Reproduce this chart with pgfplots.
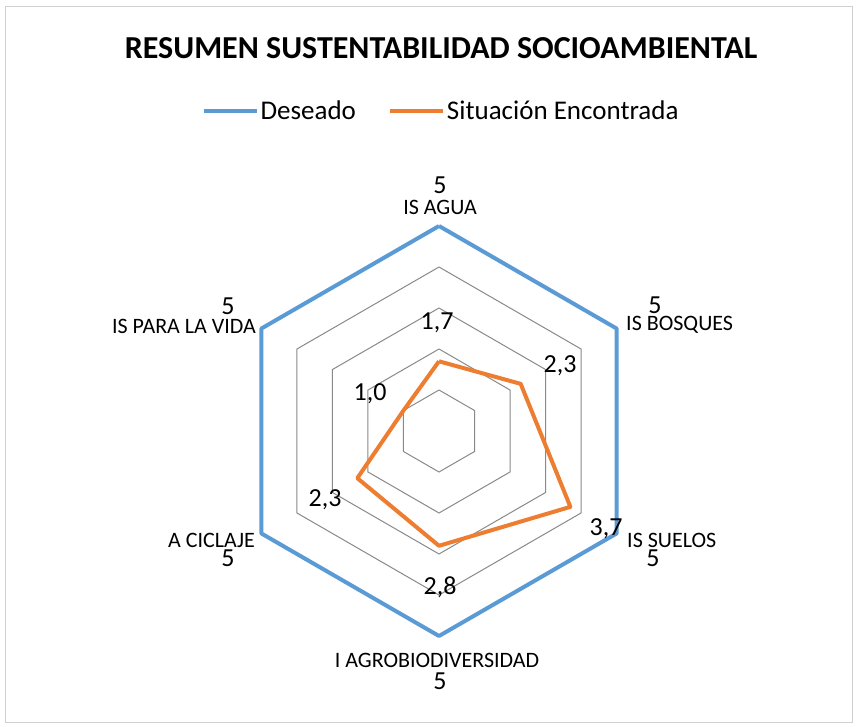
\documentclass[border=0pt]{standalone}
\usepackage{pgfplots}
\pgfplotsset{compat=1.18}
\usepackage{fontspec}
\setmainfont{Carlito}
\definecolor{cblue}{HTML}{5B9BD5}
\definecolor{corange}{HTML}{ED7D31}
\definecolor{cgrid}{HTML}{898989}
\definecolor{cframe}{HTML}{D0D0D0}
\begin{document}
\begin{tikzpicture}[x=1pt,y=1pt]
\path[use as bounding box] (0,0) rectangle (858,726);
\draw[cframe, line width=1pt] (5,4) rectangle (852,719);
\node[font=\fontsize{32}{36}\selectfont\bfseries] at (441,678) {RESUMEN SUSTENTABILIDAD SOCIOAMBIENTAL};
\begin{axis}[at={(439pt,295pt)}, anchor=center, scale only axis,
  width=410pt, height=410pt, xmin=-5, xmax=5, ymin=-5, ymax=5,
  hide axis, clip=false, data cs=polar,
  legend columns=2,
  legend style={draw=none, fill=none, at={(0.505,1.28)}, anchor=center,
    font=\fontsize{27}{30}\selectfont, inner sep=0pt,
    /tikz/every even column/.append style={column sep=30pt}},
  legend image code/.code={\draw[#1, line width=4pt] (0pt,0pt) -- (53pt,0pt);},
  ]
\addplot[cgrid, line width=1pt, forget plot] coordinates {(90,1) (30,1) (-30,1) (-90,1) (-150,1) (150,1) (90,1)};
\addplot[cgrid, line width=1pt, forget plot] coordinates {(90,2) (30,2) (-30,2) (-90,2) (-150,2) (150,2) (90,2)};
\addplot[cgrid, line width=1pt, forget plot] coordinates {(90,3) (30,3) (-30,3) (-90,3) (-150,3) (150,3) (90,3)};
\addplot[cgrid, line width=1pt, forget plot] coordinates {(90,4) (30,4) (-30,4) (-90,4) (-150,4) (150,4) (90,4)};
\addplot[cblue, line width=4pt, line join=round] coordinates {(90,5) (30,5) (-30,5) (-90,5) (-150,5) (150,5) (90,5)};
\addlegendentry{Deseado}
\addplot[corange, line width=4pt, line join=round] coordinates {(90,1.7) (30,2.3) (-30,3.7) (-90,2.8) (-150,2.3) (150,1.0) (90,1.7)};
\addlegendentry{Situación Encontrada}
\end{axis}
% category labels
\begin{scope}[every node/.style={font=\fontsize{22}{26}\selectfont, inner sep=0pt}]
\node at (440,519) {IS AGUA};
\node[anchor=west] at (626,401) {IS BOSQUES};
\node[anchor=west] at (627,186) {IS SUELOS};
\node at (437,66) {I AGROBIODIVERSIDAD};
\node[anchor=east] at (255,186) {A CICLAJE};
\node[anchor=east] at (256,400) {IS PARA LA VIDA};
\end{scope}
\begin{scope}[every node/.style={font=\fontsize{26}{30}\selectfont, inner sep=0pt}]
\node at (440,541) {5};
\node at (655,421) {5};
\node at (653,168) {5};
\node at (440,45) {5};
\node at (228,168) {5};
\node at (228,420) {5};
\node at (437,403) {1,7};
\node at (560,360) {2,3};
\node at (606,197) {3,7};
\node at (440,139) {2,8};
\node at (325,226) {2,3};
\node at (370,332) {1,0};
\end{scope}
\end{tikzpicture}
\end{document}
